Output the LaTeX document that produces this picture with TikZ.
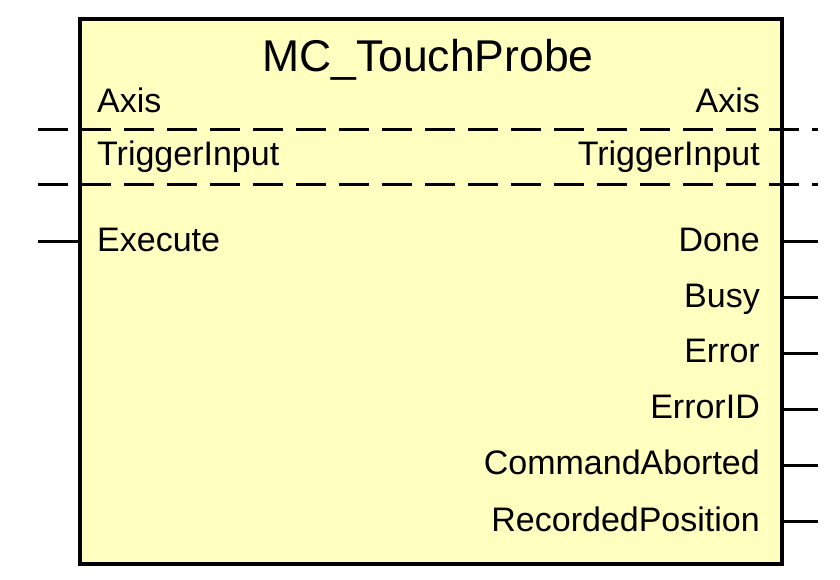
\documentclass[tikz,border=0pt]{standalone}
\usepackage{fontspec}
\setmainfont{Liberation Sans}
\begin{document}
\begin{tikzpicture}[x=1pt,y=-1pt,
  lbl/.style={font=\fontsize{34}{38}\selectfont,inner sep=0pt},
  pin/.style={line width=3pt},
  dline/.style={line width=3pt,dash pattern=on 30pt off 13pt}]
\useasboundingbox (0,0) rectangle (840,579);
\node[draw,line width=3.5pt,fill={rgb,255:red,255;green,255;blue,192},minimum width=702pt,minimum height=545pt,anchor=north west,inner sep=0pt] (box) at (78,17) {};
\node[lbl,font=\fontsize{44.5}{48}\selectfont] (title) at (428,60) {MC\_TouchProbe};
\node[lbl,anchor=mid west] (axl) at (97,110) {Axis};
\node[lbl,anchor=mid east] (axr) at (760,110) {Axis};
\node[lbl,anchor=mid west] (til) at (97,163) {TriggerInput};
\node[lbl,anchor=mid east] (tir) at (760,163) {TriggerInput};
\node[lbl,anchor=mid west] (ex) at (97,249) {Execute};
\node[lbl,anchor=mid east] (o1) at (760,249) {Done};
\node[lbl,anchor=mid east] (o2) at (760,305) {Busy};
\node[lbl,anchor=mid east] (o3) at (760,360) {Error};
\node[lbl,anchor=mid east] (o4) at (760,416) {ErrorID};
\node[lbl,anchor=mid east] (o5) at (760,472) {CommandAborted};
\node[lbl,anchor=mid east] (o6) at (760,529) {RecordedPosition};
\coordinate (d1a) at (38,129); \coordinate (d1b) at (818,129);
\coordinate (d2a) at (38,184); \coordinate (d2b) at (818,184);
\draw[dline] (d1a) -- (d1b);
\draw[dline] (d2a) -- (d2b);
\coordinate (exa) at (38,241);
\draw[pin] (exa) -- (box.west |- exa);
\foreach \n/\y in {1/241,2/297,3/353,4/409,5/465,6/521}{
  \coordinate (r\n) at (818,\y);
  \draw[pin] (box.east |- r\n) -- (r\n);
}
\end{tikzpicture}
\end{document}
